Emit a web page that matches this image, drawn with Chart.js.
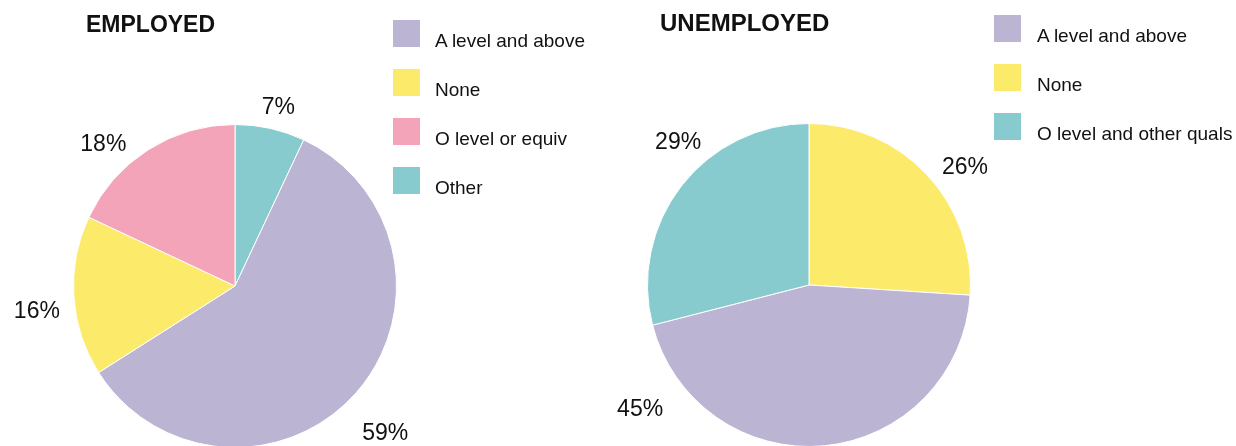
<!DOCTYPE html>
<html>
<head>
<meta charset="utf-8">
<script src="https://cdn.jsdelivr.net/npm/chart.js@4.4.1/dist/chart.umd.min.js"></script>
<style>
    html, body { margin: 0; padding: 0; background: #fff; width: 1236px; height: 446px; overflow: hidden; font-family: "Liberation Sans", Arial, sans-serif; }
    .panel { position: absolute; top: 0; height: 446px; overflow: hidden; }
    .panel canvas { position: absolute; left: 0; top: 0; }
    .title { position: absolute; font-weight: bold; line-height: 1; color: #111; white-space: nowrap; }
    .legend-item { position: absolute; height: 27px; }
    .legend-box { position: absolute; left: 0; top: 0; width: 27px; height: 27px; }
    .legend-text { position: absolute; top: 10.5px; font-size: 19px; line-height: 1; color: #111; white-space: nowrap; }
</style>
</head>
<body>
<div class="panel" style="left:0;width:600px;">
    <canvas id="emp-chart" width="600" height="448"></canvas>
    <div class="title" style="left:86px;top:12.5px;font-size:23px;">EMPLOYED</div>
    <div id="emp-legend"></div>
</div>
<div class="panel" style="left:600px;width:636px;">
    <canvas id="unemp-chart" width="636" height="448"></canvas>
    <div class="title" style="left:60px;top:10.5px;font-size:24px;">UNEMPLOYED</div>
    <div id="unemp-legend"></div>
</div>
<script>
// Employed: qualification shares (%)
const empLabels = ['A level and above', 'None', 'O level or equiv', 'Other'];
const empValues = [59, 16, 18, 7];
const empColors = ['#bbb4d3', '#fcea6a', '#f4a4b8', '#88cbce'];
const empOrder = [3, 0, 1, 2];          // clockwise from 12 o'clock
const empNudge = [2.6, -2.9, -9.9, 0.9]; // label angle tweaks, degrees

// Unemployed
const unempLabels = ['A level and above', 'None', 'O level and other quals'];
const unempValues = [45, 26, 29];
const unempColors = ['#bbb4d3', '#fcea6a', '#88cbce'];
const unempOrder = [1, 0, 2];
const unempNudge = [59.7, 5.5, 10.2];

const pctLabels = {
    id: 'pctLabels',
    afterDatasetsDraw(chart, args, opts) {
        const ctx = chart.ctx;
        const meta = chart.getDatasetMeta(0);
        const data = chart.data.datasets[0].data;
        ctx.save();
        ctx.font = '23px "Liberation Sans", Arial, sans-serif';
        ctx.fillStyle = '#111';
        ctx.textAlign = 'center';
        ctx.textBaseline = 'middle';
        meta.data.forEach((arc, i) => {
            const text = data[i] + '%';
            const mid = (arc.startAngle + arc.endAngle) / 2 + (opts.nudge[i] || 0) * Math.PI / 180;
            const c = Math.cos(mid), s = Math.sin(mid);
            const hw = ctx.measureText(text).width / 2, hh = 9;
            // labels in the lower half sit a little further out
            const d = arc.outerRadius + opts.gap + Math.abs(hw * c) + Math.abs(hh * s) + 18 * Math.max(s, 0);
            ctx.fillText(text, arc.x + d * c, arc.y + d * s + 3);
        });
        ctx.restore();
    }
};

function buildLegend(el, labels, colors, x, top, step, textLeft) {
    labels.forEach((label, i) => {
        const item = document.createElement('div');
        item.className = 'legend-item';
        item.style.left = x + 'px';
        item.style.top = (top + i * step) + 'px';
        item.innerHTML = `<div class="legend-box" style="background:${colors[i]}"></div>
            <div class="legend-text" style="left:${textLeft}px">${label}</div>`;
        el.appendChild(item);
    });
}

function makePie(canvasId, labels, values, colors, order, nudge, padding) {
    const ctx = document.getElementById(canvasId).getContext('2d');
    return new Chart(ctx, {
        type: 'pie',
        data: {
            labels: order.map(i => labels[i]),
            datasets: [{
                data: order.map(i => values[i]),
                backgroundColor: order.map(i => colors[i]),
                borderColor: '#ffffff',
                borderWidth: 1
            }]
        },
        options: {
            responsive: false,
            animation: false,
            layout: { padding },
            plugins: {
                legend: { display: false },
                tooltip: { enabled: false },
                pctLabels: { nudge: order.map(i => nudge[i]), gap: 12 }
            }
        },
        plugins: [pctLabels]
    });
}

buildLegend(document.getElementById('emp-legend'), empLabels, empColors, 393, 20, 49, 42);
buildLegend(document.getElementById('unemp-legend'), unempLabels, unempColors, 394, 15, 49, 43);

makePie('emp-chart', empLabels, empValues, empColors, empOrder, empNudge,
    { left: 73, right: 203, top: 124, bottom: 0 });
makePie('unemp-chart', unempLabels, unempValues, unempColors, unempOrder, unempNudge,
    { left: 47, right: 265, top: 123, bottom: 1 });
</script>
</body>
</html>
